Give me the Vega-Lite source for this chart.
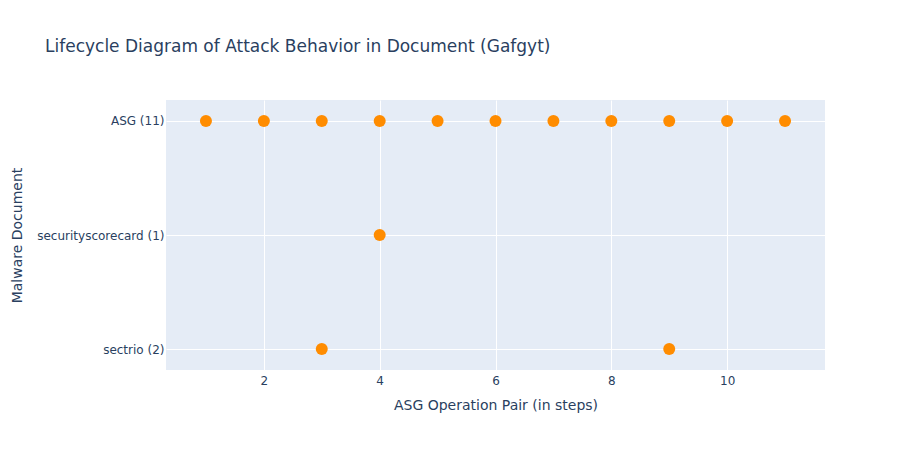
{
  "$schema": "https://vega.github.io/schema/vega-lite/v6.json",
  "autosize": {"type": "none"},
  "width": 659,
  "height": 270,
  "padding": {"left": 166, "top": 100, "right": 81, "bottom": 80},
  "background": "white",
  "title": {
    "text": "Lifecycle Diagram of Attack Behavior in Document (Gafgyt)",
    "anchor": "start",
    "frame": "group",
    "dx": -121,
    "offset": 44,
    "fontSize": 17,
    "font": "DejaVu Sans",
    "fontWeight": "normal",
    "color": "#2a3f5f"
  },
  "data": {
    "values": [
      {"doc": "ASG (11)", "step": 1},
      {"doc": "ASG (11)", "step": 2},
      {"doc": "ASG (11)", "step": 3},
      {"doc": "ASG (11)", "step": 4},
      {"doc": "ASG (11)", "step": 5},
      {"doc": "ASG (11)", "step": 6},
      {"doc": "ASG (11)", "step": 7},
      {"doc": "ASG (11)", "step": 8},
      {"doc": "ASG (11)", "step": 9},
      {"doc": "ASG (11)", "step": 10},
      {"doc": "ASG (11)", "step": 11},
      {"doc": "securityscorecard (1)", "step": 4},
      {"doc": "sectrio (2)", "step": 3},
      {"doc": "sectrio (2)", "step": 9}
    ]
  },
  "mark": {"type": "point", "filled": true, "shape": "circle", "size": 144, "color": "#FF8C00", "opacity": 1},
  "encoding": {
    "x": {
      "field": "step",
      "type": "quantitative",
      "scale": {"domain": [0.31, 11.69], "nice": false, "zero": false},
      "axis": {"values": [2, 4, 6, 8, 10], "title": "ASG Operation Pair (in steps)", "labelPadding": 5, "titlePadding": 12}
    },
    "y": {
      "field": "doc",
      "type": "nominal",
      "sort": ["ASG (11)", "securityscorecard (1)", "sectrio (2)"],
      "scale": {"type": "point", "padding": 0.184},
      "axis": {"title": "Malware Document", "labelPadding": 2, "titlePadding": 12}
    }
  },
  "config": {
    "view": {"fill": "#E5ECF6", "stroke": null},
    "axis": {
      "domain": false,
      "ticks": false,
      "grid": true,
      "gridColor": "white",
      "gridWidth": 1,
      "gridOpacity": 1,
      "labelColor": "#2a3f5f",
      "titleColor": "#2a3f5f",
      "labelFont": "DejaVu Sans",
      "titleFont": "DejaVu Sans",
      "labelFontSize": 12,
      "titleFontSize": 14,
      "titleFontWeight": "normal"
    }
  }
}
